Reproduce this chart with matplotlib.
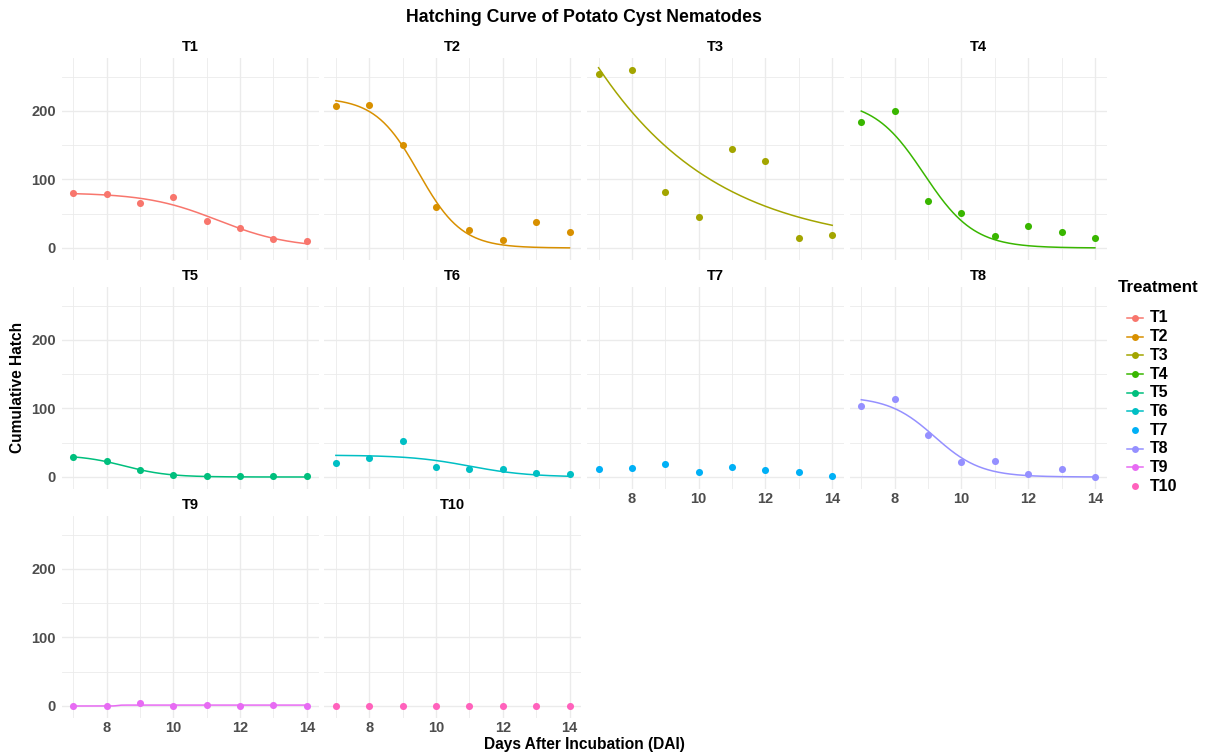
import numpy as np
import matplotlib.pyplot as plt
from matplotlib.lines import Line2D

plt.rcParams['font.family'] = ['Liberation Sans', 'DejaVu Sans']

# Days after incubation
days = [7, 8, 9, 10, 11, 12, 13, 14]

# Cumulative hatch per treatment
T1 = [80, 78, 65, 74, 40, 29, 13, 10]
T2 = [207, 208, 150, 60, 26, 11, 38, 23]
T3 = [254, 260, 81, 45, 145, 127, 15, 19]
T4 = [183, 200, 68, 51, 17, 32, 24, 14]
T5 = [29, 23, 10, 3, 2, 2, 1, 2]
T6 = [21, 28, 52, 15, 11, 12, 6, 4]
T7 = [11, 13, 19, 8, 14, 10, 8, 1]
T8 = [104, 114, 61, 22, 23, 5, 11, 0]
T9 = [0, 0, 4, 0, 2, 0, 2, 0]
T10 = [0, 0, 0, 0, 0, 0, 0, 0]

treatments = ['T1', 'T2', 'T3', 'T4', 'T5', 'T6', 'T7', 'T8', 'T9', 'T10']
hatch = [T1, T2, T3, T4, T5, T6, T7, T8, T9, T10]
# logistic fit did not converge for these
no_fit = ['T7', 'T10']

colors = ['#F8766D', '#D89000', '#A3A500', '#39B600', '#00BF7D',
          '#00BFC4', '#00B0F6', '#9590FF', '#E76BF3', '#FF62BC']


def fit_logistic(x, y):
    """Least-squares logistic y = Asym / (1 + exp((x - xmid) / scal)), grid over xmid/scal."""
    x = np.asarray(x, float)
    y = np.asarray(y, float)
    mids = np.arange(0.0, 20.0, 0.02)
    scals = np.arange(0.05, 6.0, 0.02)
    scals = np.concatenate([-scals[::-1], scals])
    m = mids[:, None, None]
    s = scals[None, :, None]
    f = 0.5 * (1.0 - np.tanh((x[None, None, :] - m) / (2 * s)))
    ff = (f * f).sum(axis=2)
    asym = (f * y).sum(axis=2) / np.where(ff > 0, ff, 1.0)
    sse = ((y - asym[..., None] * f) ** 2).sum(axis=2)
    i, j = np.unravel_index(np.argmin(sse), sse.shape)
    return asym[i, j], mids[i], scals[j]


W, H = 1214, 754
fig = plt.figure(figsize=(W / 100, H / 100), dpi=100)

col_left = [61.5, 324.2, 586.9, 849.6]
row_top = [58, 287, 516]
pw, ph = 257, 202

tick_col = '#4D4D4D'
grid_col = '#EBEBEB'

for k, (name, vals, c) in enumerate(zip(treatments, hatch, colors)):
    r, cc = divmod(k, 4)
    ax = fig.add_axes([col_left[cc] / W, 1 - (row_top[r] + ph) / H, pw / W, ph / H])
    ax.set_xlim(6.65, 14.35)
    ax.set_ylim(-17.5, 277)
    ax.set_xticks([8, 10, 12, 14])
    ax.set_xticks([7, 9, 11, 13], minor=True)
    ax.set_yticks([0, 100, 200])
    ax.set_yticks([50, 150, 250], minor=True)
    ax.grid(True, which='major', color=grid_col, lw=1.0)
    ax.grid(True, which='minor', color=grid_col, lw=0.6)
    ax.set_axisbelow(True)
    for sp in ax.spines.values():
        sp.set_visible(False)
    ax.tick_params(which='both', length=0, labelsize=10.5, labelcolor=tick_col)
    ax.tick_params(axis='x', pad=2)
    ax.tick_params(axis='y', pad=4)
    for lab in ax.get_xticklabels() + ax.get_yticklabels():
        lab.set_fontweight('bold')
    bottom_of_col = (k + 4 >= len(treatments))
    if not bottom_of_col:
        ax.tick_params(labelbottom=False)
    if cc != 0:
        ax.tick_params(labelleft=False)
    ax.set_title(name, fontsize=10.5, fontweight='bold', pad=5)

    ax.scatter(days, vals, s=26, color=c, zorder=3, linewidths=0)
    if name not in no_fit:
        asym, xmid, scal = fit_logistic(days, vals)
        xs = np.linspace(min(days), max(days), 200)
        ys = asym / (1 + np.exp((xs - xmid) / scal))
        ax.plot(xs, ys, color=c, lw=1.1, zorder=2)

fig.text(584 / W, 1 - 18 / H, 'Hatching Curve of Potato Cyst Nematodes',
         ha='center', va='center', fontsize=12.7, fontweight='bold')
fig.text(584 / W, 1 - 745 / H, 'Days After Incubation (DAI)',
         ha='center', va='center', fontsize=11.2, fontweight='bold')
fig.text(18 / W, 1 - 387 / H, 'Cumulative Hatch', rotation=90,
         ha='center', va='center', fontsize=11.2, fontweight='bold')

# legend, laid out like ggplot's guide
fig.text(1118 / W, 1 - 288 / H, 'Treatment', ha='left', va='center',
         fontsize=12.2, fontweight='bold')
for i, (name, c) in enumerate(zip(treatments, colors)):
    yy = 1 - (318 + i * 18.67) / H
    if name not in no_fit:
        fig.add_artist(Line2D([1127 / W, 1143 / W], [yy, yy], color=c, lw=1.1,
                              transform=fig.transFigure))
    fig.add_artist(Line2D([1135 / W], [yy], color=c, marker='o', markersize=5,
                          markeredgewidth=0, linestyle='none',
                          transform=fig.transFigure))
    fig.text(1150 / W, yy, name, ha='left', va='center',
             fontsize=11.5, fontweight='bold')

fig.savefig('out.png', dpi=100)
